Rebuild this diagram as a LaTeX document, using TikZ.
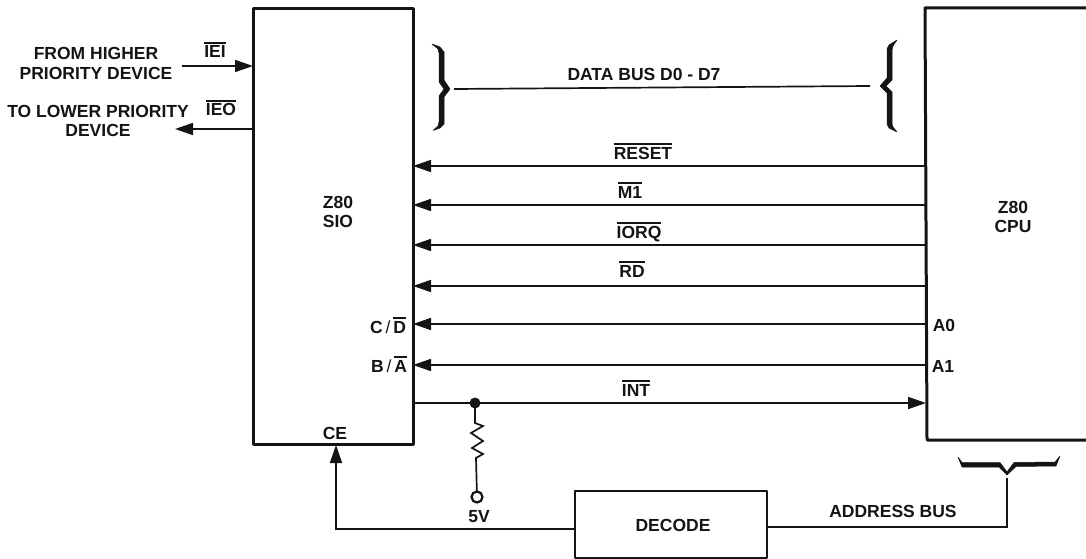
\documentclass[tikz,border=0pt]{standalone}
\usepackage{fontspec}
\setmainfont{Liberation Sans}[BoldFont={Liberation Sans Bold}]
\usetikzlibrary{arrows.meta}
\newcommand{\ov}[1]{\leavevmode\vbox{\hrule height 1.3pt \kern 2.2pt \hbox{#1}}}
\definecolor{inkc}{gray}{0.08}
\tikzset{
 x=1pt,y=-1pt,
 boxline/.style={draw=inkc,line width=3pt,line join=round},
 wire/.style={draw=inkc,line width=1.7pt},
 arr/.style={wire,-{Triangle[length=18pt,width=12pt]}},
 lab/.style={font=\bfseries\fontsize{17.5}{19.5}\selectfont,text=inkc,align=center,inner sep=0pt},
 one/.style={lab,text height=12pt,text depth=0pt},
 brace/.style={fill=inkc,draw=inkc,line width=.5pt,line join=round}
}
\begin{document}
\begin{tikzpicture}
\useasboundingbox (0,0) rectangle (1086,559);
% boxes
\node[boxline,inner sep=0pt,outer sep=0pt,minimum width=160pt,minimum height=435pt,anchor=north west] (sio) at (253,9) {};
\draw[boxline] (1086,8) -- (925,8) -- (927,440) -- (1086,440);
\node[boxline,line width=2.6pt,inner sep=0pt,outer sep=0pt,minimum width=192pt,minimum height=67pt,anchor=north west] (dec) at (575,491) {};
% box labels
\node[lab] (siol) at (338,212) {Z80\\SIO};
\node[lab] (cpul) at (1013,217) {Z80\\CPU};
\node[one] (decl) at (673,525) {DECODE};
\node[lab] (l1) at (96,63.5) {FROM HIGHER\\PRIORITY DEVICE};
\node[lab] (l2) at (98,121) {TO LOWER PRIORITY\\DEVICE};
\node[one] (iei) at (215,52) {\ov{IEI}};
\node[one] (ieo) at (221,110) {\ov{IEO}};
\node[one] (db) at (644,75) {DATA BUS D0 - D7};
\node[one] (reset) at (643,153) {\ov{RESET}};
\node[one] (m1) at (630,192) {\ov{M1}};
\node[one] (iorq) at (639,232) {\ov{IORQ}};
\node[one] (rd) at (632,271) {\ov{RD}};
\node[one] (int) at (636,390) {\ov{INT}};
\node[one] (cd) at (388,327) {C\,{\mdseries/}\,\ov{D}};
\node[one] (ba) at (389,366) {B\,{\mdseries/}\,\ov{A}};
\node[one] (ce) at (335,433) {CE};
\node[one] (a0) at (944,325) {A0};
\node[one] (a1) at (943,366) {A1};
\node[one] (fv) at (479,516) {5V};
\node[one] (ab) at (893,511) {ADDRESS BUS};
% IEI IEO
\coordinate (ieistart) at (182,66);
\coordinate (ieoend) at (175,129);
\draw[arr] (ieistart) -- (ieistart -| sio.west);
\draw[arr] (sio.west |- ieoend) -- (ieoend);
% bus lines
\foreach \y/\n in {166/a,205/b,245/c,286/d,324/e,365/f}{
  \coordinate (r\n) at (926,\y);
  \draw[arr] (r\n) -- (r\n -| sio.east);
}
% INT
\coordinate (j) at (475,403);
\coordinate (intR) at (926,403);
\draw[arr] (sio.east |- j) -- (intR);
\fill[inkc] (j) circle (5.5pt);
% resistor
\coordinate (rtop) at (475,423);
\coordinate (term) at (477,497);
\draw[wire,line join=miter] (j) -- (rtop) -- (483,426) -- (471,433) -- (483,441) -- (472,448) -- (483,454) -- (476,458) -- (term);
\draw[draw=inkc,line width=2.2pt,fill=white] (term) circle (5.5pt);
% CE
\coordinate (cearrow) at (336,445);
\draw[arr] (dec.west |- 0,529) -- (336,529) -- (cearrow);
% address bus
\coordinate (abrace) at (1007,478);
\draw[wire] (dec.east |- 0,527) -- (1007,527) -- (abrace);
% data bus
\coordinate (bl) at (454,89);
\coordinate (br) at (870,86);
\draw[wire] (bl) -- (br);
% left brace
\fill[brace] (432,44) -- (440,47) -- (444,52) -- (444,80) -- (450,89) -- (444,97) -- (444,124) -- (440,128) -- (433,130.5) -- (438,126) -- (439,122) -- (439,96) -- (444,89) -- (439,82) -- (439,53) -- (438,49) -- cycle;
% right brace
\fill[brace] (897,40) -- (889,45) -- (887,49) -- (887,78) -- (880,86) -- (887,93) -- (887,124) -- (889,128) -- (897,132) -- (893,127) -- (892,124) -- (892,92) -- (886,86) -- (892,80) -- (892,50) -- (893,46) -- cycle;
% bottom brace
\fill[brace] (958,457) -- (962,462.5) -- (1000,462.5) -- (1007,472) -- (1014,462.5) -- (1055,462) -- (1060,456) -- (1056,466) -- (1016,466.5) -- (1007,475) -- (999,467) -- (962,467) -- cycle;
\end{tikzpicture}
\end{document}
